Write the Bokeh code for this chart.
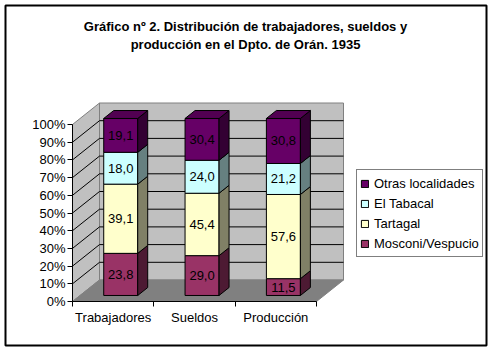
import numpy as np
from bokeh.plotting import figure
from bokeh.models import (Range1d, LinearAxis, FixedTicker, PrintfTickFormatter,
                          Legend, LegendItem, ColumnDataSource)
from bokeh.core.properties import value
from bokeh.embed import file_html
from bokeh.resources import INLINE

# ---------------- data ----------------
categories = ["Trabajadores", "Sueldos", "Producción"]
series_names = ["Mosconi/Vespucio", "Tartagal", "El Tabacal", "Otras localidades"]
mosconi = [23.8, 29.0, 11.5]
tartagal = [39.1, 45.4, 57.6]
tabacal = [18.0, 24.0, 21.2]
otras = [19.1, 30.4, 30.8]
y_ticks = [0, 10, 20, 30, 40, 50, 60, 70, 80, 90, 100]
title_lines = ["Gráfico nº 2. Distribución de trabajadores, sueldos y",
               "producción en el Dpto. de Orán. 1935"]

# ---------------- style ----------------
front_colors = ["#993366", "#FFFFCC", "#CCFFFF", "#660066"]
side_colors = ["#4D1A33", "#808066", "#668080", "#330033"]
top_color = "#520052"
wall_color = "#C0C0C0"
floor_color = "#808080"
edge_gray = "#808080"
FONT_NAME = "Liberation Sans"
FONT = value(FONT_NAME)

W, H = 492, 351
FRAME_L, FRAME_T, FRAME_R, FRAME_B = 5, 5, 486, 345
ORIGIN_X, ORIGIN_Y = 72, 301          # px of front-plane origin
CAT_PX = 244 / 3                      # px per category unit
PCT_PX = 1.77                         # px per percent
DX = 27 / CAT_PX                      # wall depth (category units)
DY = 21.5 / PCT_PX                    # wall depth (percent units)
F1, F2 = 0.28, 0.65                   # bar front/back depth fractions
HALF_W = 17 / CAT_PX                  # half bar width
NCAT = len(categories)


def proj(x, y, d):
    return x + d * DX, y + d * DY


def px2x(px):
    return (px - ORIGIN_X) / CAT_PX


def py2y(py):
    return (ORIGIN_Y - py) / PCT_PX


x_range = Range1d(px2x(FRAME_L), px2x(FRAME_R))
y_range = Range1d(py2y(FRAME_B), py2y(FRAME_T))

p = figure(width=W, height=H, x_range=x_range, y_range=y_range,
           output_backend="svg", toolbar_location=None,
           x_axis_type=None, y_axis_type=None,
           min_border_left=FRAME_L, min_border_top=FRAME_T,
           min_border_right=W - FRAME_R, min_border_bottom=H - FRAME_B,
           outline_line_color="black", outline_line_width=2,
           background_fill_color="white", border_fill_color="white")
p.grid.visible = False

top = max(y_ticks)


def poly(pts):
    xs, ys = zip(*pts)
    return list(xs), list(ys)


# ---------------- walls ----------------
walls_xs, walls_ys, walls_fill = [], [], []
for pts, col in [
    ([proj(0, 0, 1), proj(NCAT, 0, 1), proj(NCAT, top, 1), proj(0, top, 1)], wall_color),
    ([proj(0, 0, 0), proj(0, top, 0), proj(0, top, 1), proj(0, 0, 1)], wall_color),
    ([proj(0, 0, 0), proj(NCAT, 0, 0), proj(NCAT, 0, 1), proj(0, 0, 1)], floor_color),
]:
    xs, ys = poly(pts)
    walls_xs.append(xs)
    walls_ys.append(ys)
    walls_fill.append(col)
p.patches(walls_xs, walls_ys, fill_color=walls_fill, line_color=edge_gray, line_width=1)

# gridlines
gx, gy = [], []
for t in y_ticks[1:-1]:
    a, b, c = proj(0, t, 0), proj(0, t, 1), proj(NCAT, t, 1)
    gx.append([a[0], b[0], c[0]])
    gy.append([a[1], b[1], c[1]])
p.multi_line(gx, gy, line_color="black", line_width=1)

# ---------------- bars ----------------
stack = np.array([mosconi, tartagal, tabacal, otras])
pct = stack / stack.sum(axis=0) * 100
cum_top = np.cumsum(pct, axis=0)
cum_bot = cum_top - pct

side_xs, side_ys, side_fill = [], [], []
legend_renderers = {}
lab_x, lab_y, lab_t = [], [], []
for j, name in enumerate(series_names):
    cx = [i + 0.5 for i in range(NCAT)]
    fx = [proj(c, 0, F1)[0] for c in cx]
    bots = [proj(0, b, F1)[1] for b in cum_bot[j]]
    tops = [proj(0, t, F1)[1] for t in cum_top[j]]
    for i in range(NCAT):
        xr = cx[i] + HALF_W
        xs, ys = poly([proj(xr, cum_bot[j][i], F1), proj(xr, cum_bot[j][i], F2),
                       proj(xr, cum_top[j][i], F2), proj(xr, cum_top[j][i], F1)])
        side_xs.append(xs)
        side_ys.append(ys)
        side_fill.append(side_colors[j])
        lab_x.append(fx[i])
        lab_y.append((bots[i] + tops[i]) / 2)
        lab_t.append(f"{stack[j][i]:.1f}".replace(".", ","))
    src = ColumnDataSource(dict(x=fx, bottom=bots, top=tops))
    r = p.vbar(x="x", bottom="bottom", top="top", width=2 * HALF_W, source=src,
               fill_color=front_colors[j], line_color="black", line_width=1)
    legend_renderers[name] = r

# top faces
for i in range(NCAT):
    c = i + 0.5
    t = cum_top[-1][i]
    xs, ys = poly([proj(c - HALF_W, t, F1), proj(c + HALF_W, t, F1),
                   proj(c + HALF_W, t, F2), proj(c - HALF_W, t, F2)])
    side_xs.append(xs)
    side_ys.append(ys)
    side_fill.append(top_color)
p.patches(side_xs, side_ys, fill_color=side_fill, line_color="black", line_width=1)

p.text(lab_x, lab_y, text=lab_t, text_align="center", text_baseline="middle",
       text_font=FONT, text_font_size="13px", text_color="black")

# ---------------- axes ----------------
yaxis = LinearAxis(fixed_location=0, bounds=(0, top),
                   ticker=FixedTicker(ticks=y_ticks),
                   formatter=PrintfTickFormatter(format="%d%%"),
                   major_tick_out=5, major_tick_in=0, minor_tick_line_color=None,
                   major_label_standoff=2, axis_line_color="black",
                   major_label_text_font=FONT_NAME, major_label_text_font_size="13px",
                   major_label_text_color="black")
p.add_layout(yaxis, "left")

xaxis = LinearAxis(fixed_location=0, bounds=(0, NCAT),
                   ticker=FixedTicker(ticks=list(range(NCAT + 1))),
                   major_tick_out=5, major_tick_in=0, minor_tick_line_color=None,
                   major_label_text_color=None, axis_line_color="black")
p.add_layout(xaxis, "below")

cat_ticks = [i + 0.5 for i in range(NCAT)]
cataxis = LinearAxis(fixed_location=0, ticker=FixedTicker(ticks=cat_ticks),
                     major_label_overrides={t: c for t, c in zip(cat_ticks, categories)},
                     major_tick_out=0, major_tick_in=0, major_tick_line_color=None,
                     minor_tick_line_color=None, axis_line_color=None,
                     major_label_standoff=8, major_label_text_font=FONT_NAME,
                     major_label_text_font_size="13px", major_label_text_color="black")
p.add_layout(cataxis, "below")

# ---------------- title ----------------
p.text([px2x(245)] * 2, [py2y(26), py2y(44)], text=title_lines,
       text_align="center", text_baseline="middle", text_font=FONT,
       text_font_size="13px", text_font_style="bold", text_color="black")

# ---------------- legend ----------------
items = [LegendItem(label=n, renderers=[legend_renderers[n]]) for n in reversed(series_names)]
legend = Legend(items=items, location=(351, 88), margin=0, padding=3,
                spacing=0, label_height=20, glyph_width=9, glyph_height=9,
                label_standoff=5, label_text_font=FONT_NAME, label_text_font_size="13px",
                label_text_color="black", border_line_color="black",
                border_line_width=1, background_fill_color="white",
                background_fill_alpha=1)
p.add_layout(legend)

open("out.html", "w").write(file_html(p, INLINE))
